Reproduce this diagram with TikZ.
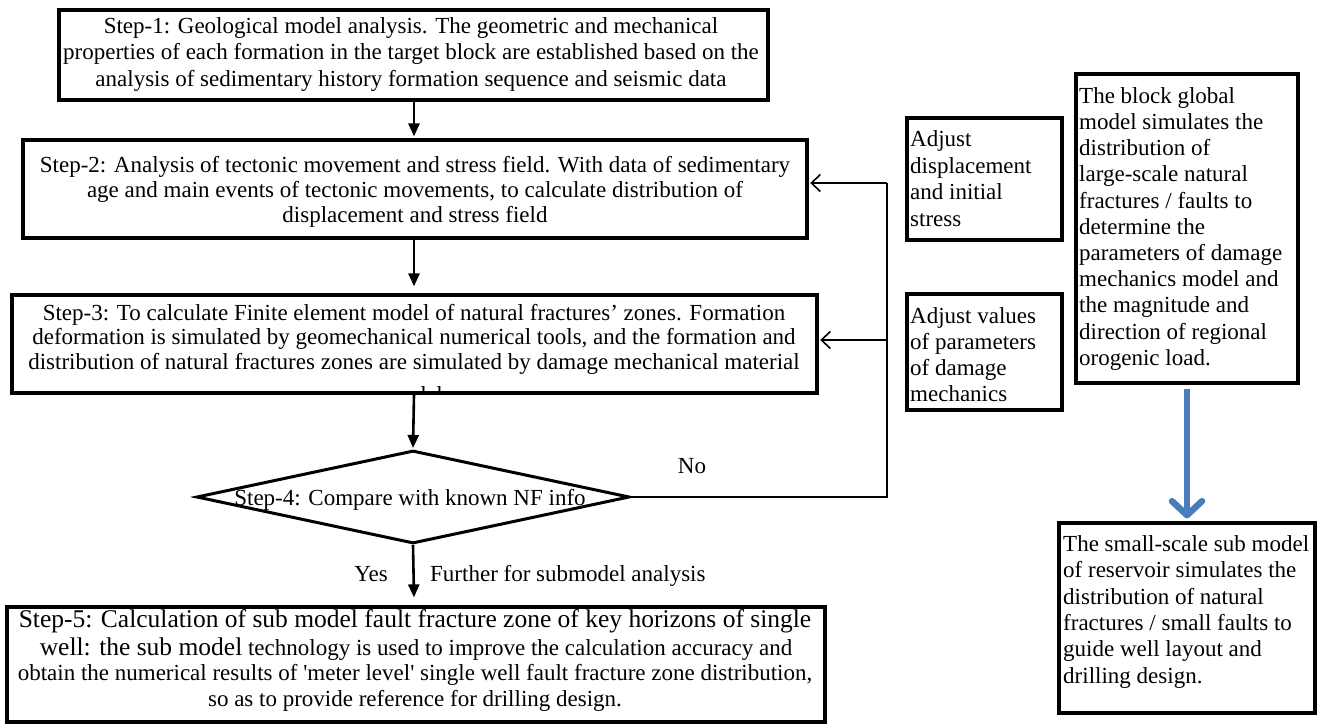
\documentclass[tikz,border=0pt]{standalone}
\usepackage{fontspec}
\setmainfont{Liberation Serif}
\newfontfamily\serifplain{Liberation Serif}
\usetikzlibrary{arrows.meta,shapes.geometric,calc}
\definecolor{arrowblue}{HTML}{4A7EBB}
\tikzset{
  boxnode/.style={draw, line width=3.2pt, inner sep=0pt, rectangle},
  txt/.style={inner sep=0pt, font=\fontsize{23}{26.4}\selectfont},
  downarrow/.style={line width=2.6pt, -{Triangle[length=13pt,width=11pt]}},
  fbline/.style={line width=1.6pt},
  fbarrow/.style={line width=1.6pt, -{Straight Barb[length=9pt,width=17pt]}},
  bluearrow/.style={line width=6.5pt, draw=arrowblue, -{Straight Barb[length=14pt,width=30pt,line cap=round,line join=round]}},
}
\begin{document}
\begin{tikzpicture}[x=1pt,y=-1pt]
\useasboundingbox (0,0) rectangle (1317,725);

% ---------- left column boxes ----------
\node[boxnode, minimum width=709pt, minimum height=90pt] (b1) at (413.5,55) {};
\node[txt, align=center, anchor=north, font=\fontsize{23}{26.6}\selectfont] (t1) at (411,17.2)
 {Step-1: Geological model analysis. The geometric and mechanical\\
  properties of each formation in the target block are established based on the\\
  analysis of sedimentary history formation sequence and seismic data};

\node[boxnode, minimum width=784pt, minimum height=98pt] (b2) at (415,189) {};
\node[txt, align=center, anchor=north, font=\fontsize{23}{25}\selectfont] (t2) at (415,156.2)
 {Step-2: Analysis of tectonic movement and stress field. With data of sedimentary\\
  age and main events of tectonic movements, to calculate distribution of\\
  displacement and stress field};

\begin{scope}
  \clip (12,295) rectangle (817,392);
  \node[txt, anchor=base] (t3m) at (414,402) {model};
\end{scope}
\node[boxnode, minimum width=805pt, minimum height=98pt] (b3) at (414.5,344) {};
\node[txt, align=center, anchor=north, font=\fontsize{23}{24.5}\selectfont] (t3) at (414,304)
 {Step-3: To calculate Finite element model of natural fractures’ zones. Formation\\
  deformation is simulated by geomechanical numerical tools, and the formation and\\
  distribution of natural fractures zones are simulated by damage mechanical material};

\node[draw, diamond, line width=3pt, inner sep=0pt, minimum width=433pt, minimum height=93pt] (dia) at (413,497) {};
\node[txt, anchor=base] (t4) at (410,505) {Step-4: Compare with known NF info};

\node[boxnode, minimum width=818pt, minimum height=115pt] (b5) at (416,664.5) {};
\node[txt, anchor=base, font=\fontsize{25.5}{26}\selectfont] (t5a) at (415,627)
 {Step-5: Calculation of sub model fault fracture zone of key horizons of single};
\node[txt, anchor=base] (t5b) at (416,655)
 {{\fontsize{25.5}{26}\selectfont well: the sub model} technology is used to improve the calculation accuracy and};
\node[txt, anchor=base] (t5c) at (415,680)
 {obtain the numerical results of {\serifplain 'meter level'} single well fault fracture zone distribution,};
\node[txt, anchor=base] (t5d) at (415,706)
 {so as to provide reference for drilling design.};

% ---------- vertical flow arrows ----------
\coordinate (ax) at (414,0);
\draw[downarrow] (ax |- b1.south) -- ($(ax |- b2.north)+(0,-2)$);
\draw[downarrow] (ax |- b2.south) -- ($(ax |- b3.north)+(0,-7)$);
\draw[downarrow] (ax |- b3.south) -- ($(dia.north)+(0,-1)$);
\draw[downarrow] (dia.south) -- ($(ax |- b5.north)+(0,-8)$);

\node[txt, anchor=base] (yes) at (371,581) {Yes};
\node[txt, anchor=base west] (further) at (430,581) {Further for submodel analysis};
\node[txt, anchor=base] (no) at (692,473) {No};

% ---------- feedback loop ----------
\coordinate (fbA) at (887,183);
\coordinate (fbB) at (887,340);
\draw[fbline] (dia.east) -- (dia.east -| fbA) -- (fbA);
\draw[fbarrow] (fbA) -- ($(fbA -| b2.east)+(1.6,0)$);
\draw[fbarrow] (fbB) -- ($(fbB -| b3.east)+(1.6,0)$);

% ---------- adjust boxes ----------
\node[boxnode, minimum width=155pt, minimum height=122pt] (adj1) at (984.5,179) {};
\node[txt, align=left, anchor=north west, font=\fontsize{23}{26.7}\selectfont] (adj1t) at (910,130.2)
 {Adjust\\displacement\\and initial\\stress};
\node[boxnode, minimum width=155pt, minimum height=116pt] (adj2) at (984.5,352) {};
\node[txt, align=left, anchor=north west, font=\fontsize{23}{26}\selectfont] (adj2t) at (910,307.2)
 {Adjust values\\of parameters\\of damage\\mechanics};

% ---------- right column ----------
\node[boxnode, minimum width=222pt, minimum height=309pt] (gb) at (1187,228.5) {};
\node[txt, align=left, anchor=north west, font=\fontsize{23}{26.2}\selectfont] (gbt) at (1079,87.2)
 {The block global\\model simulates the\\distribution of\\large-scale natural\\fractures / faults to\\determine the\\parameters of damage\\mechanics model and\\the magnitude and\\direction of regional\\orogenic load.};

\node[boxnode, minimum width=256pt, minimum height=190pt] (sb) at (1187,618) {};
\node[txt, align=left, anchor=north west, font=\fontsize{23}{26.4}\selectfont] (sbt) at (1063,535.2)
 {The small-scale sub model\\of reservoir simulates the\\distribution of natural\\fractures / small faults to\\guide well layout and\\drilling design.};

\draw[bluearrow] ($(gb.south)+(0,4)$) -- ($(sb.north)+(0,-3)$);
\end{tikzpicture}
\end{document}
